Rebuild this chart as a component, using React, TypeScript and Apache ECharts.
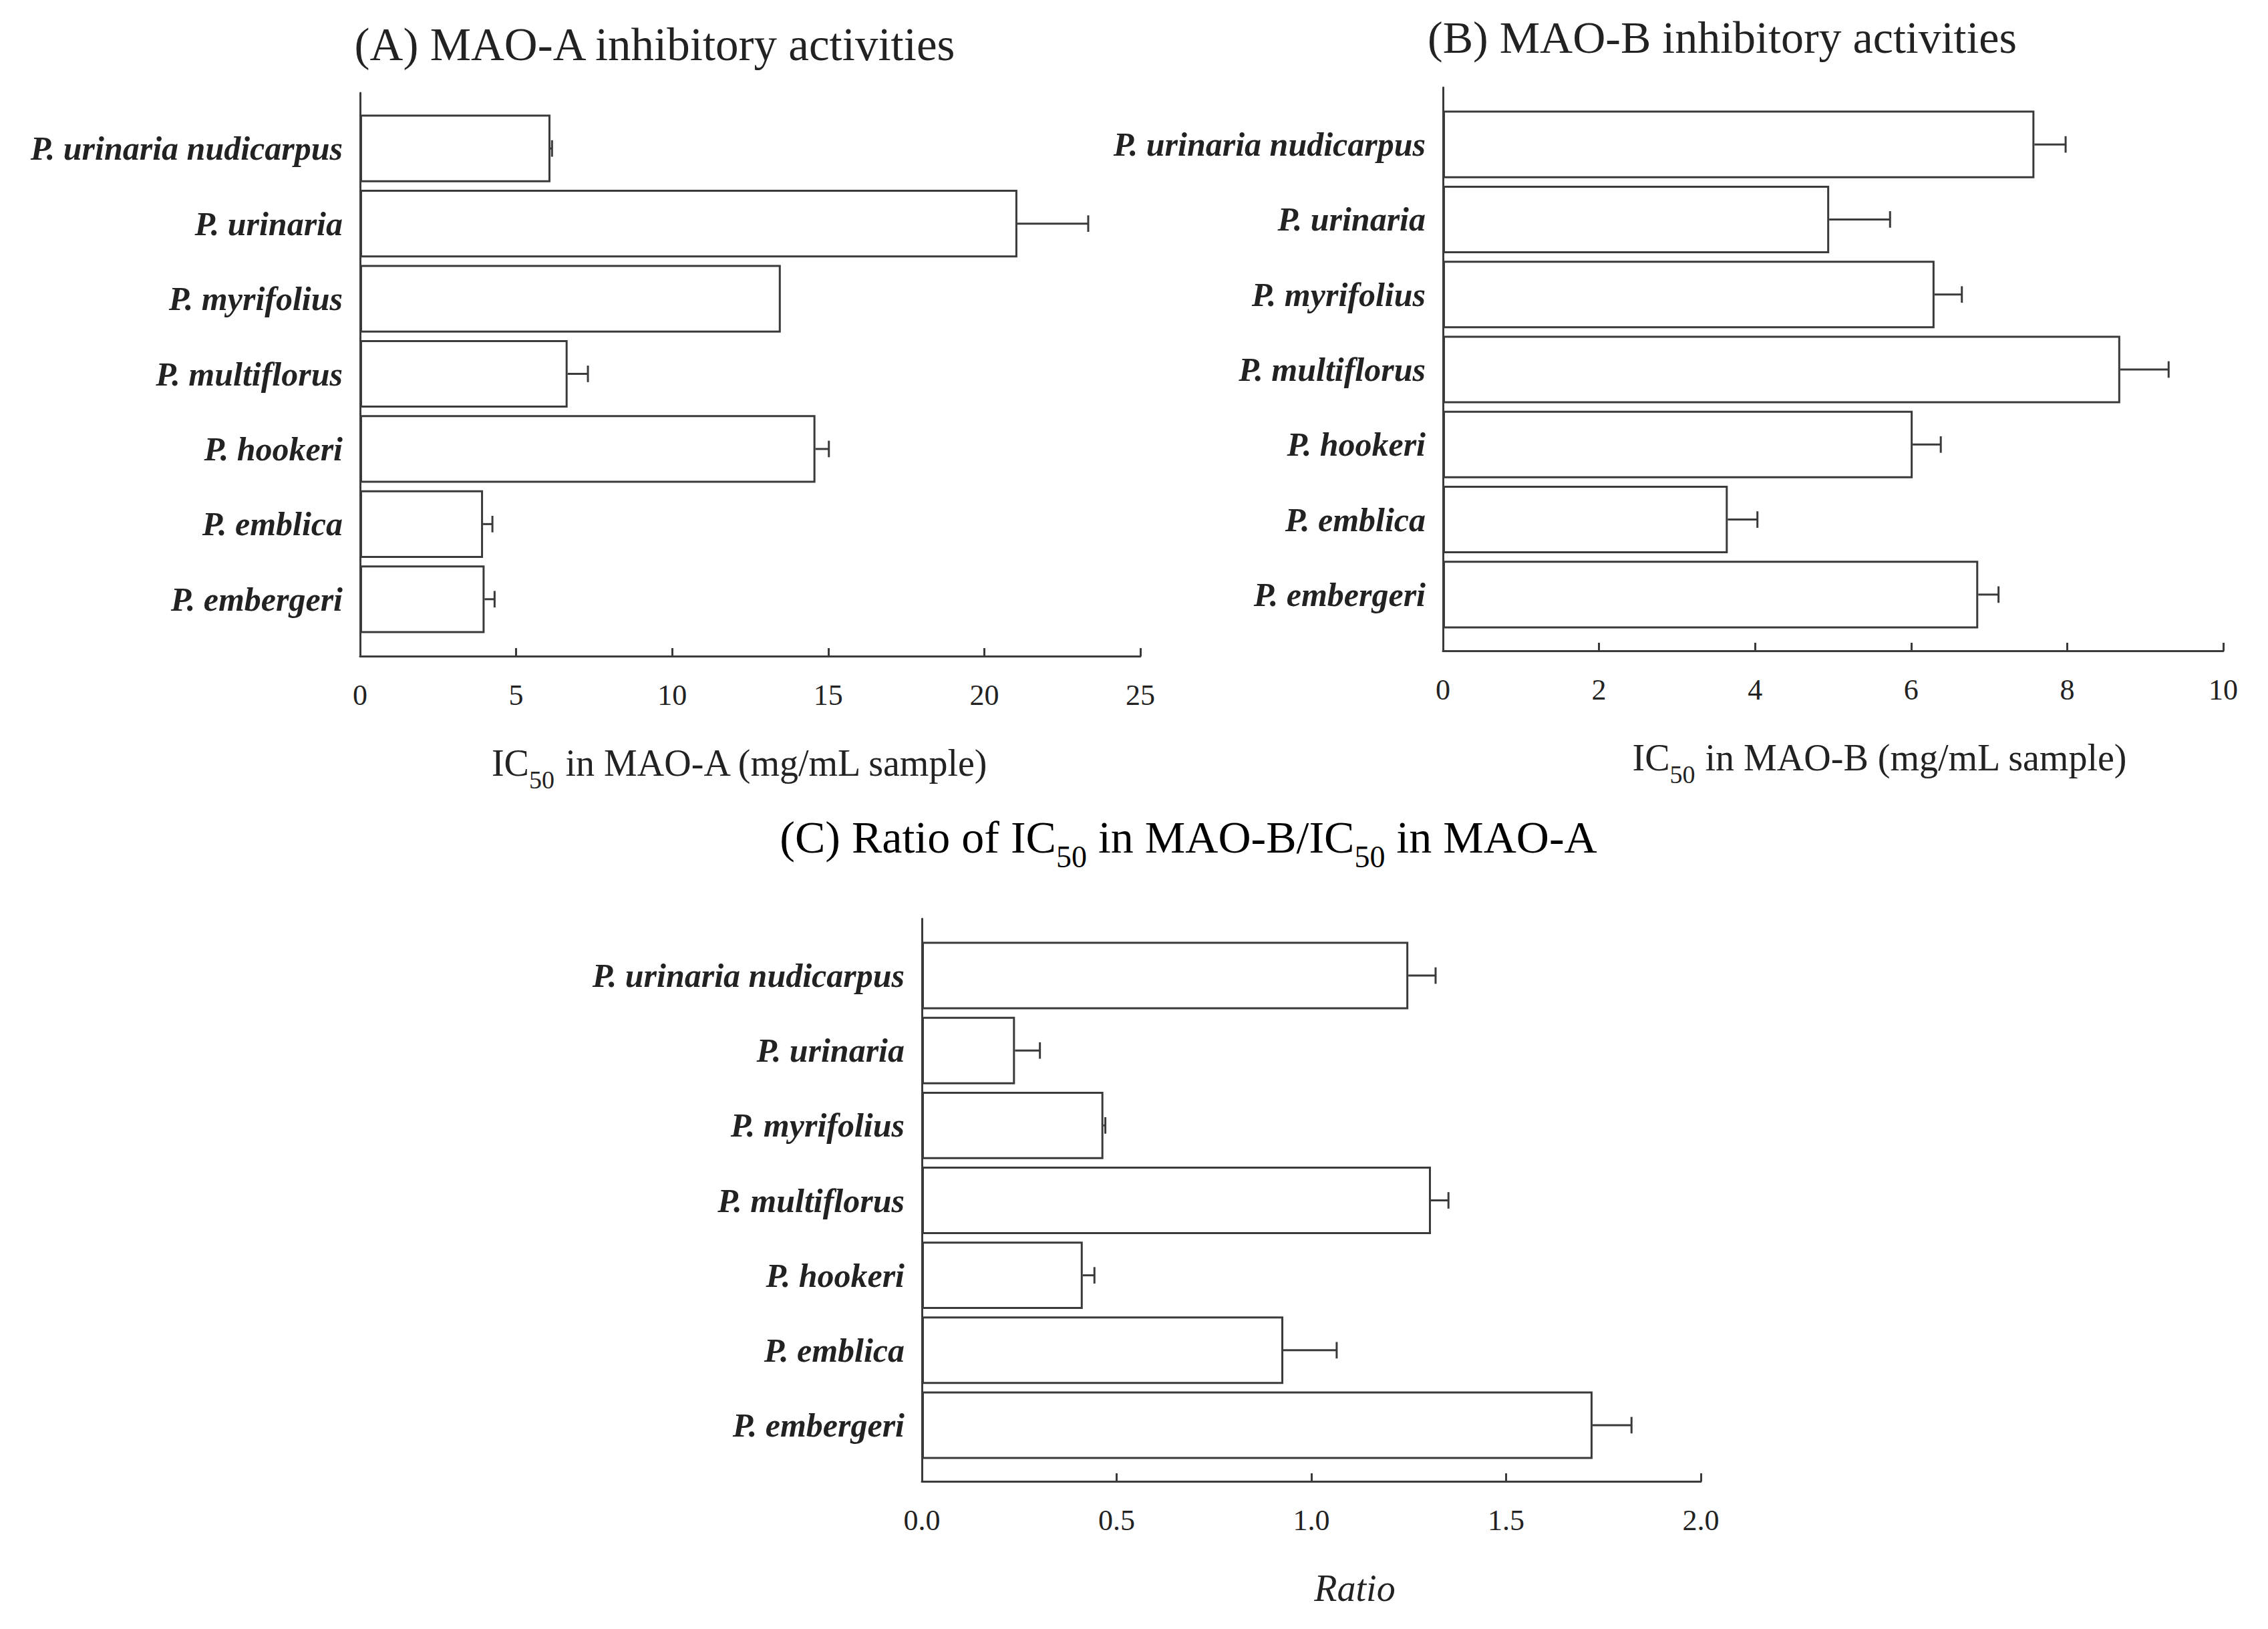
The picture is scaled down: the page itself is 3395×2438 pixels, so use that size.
import React, { useEffect, useRef } from "react";
import * as echarts from "echarts";

const categories = [
  "P. urinaria nudicarpus",
  "P. urinaria",
  "P. myrifolius",
  "P. multiflorus",
  "P. hookeri",
  "P. emblica",
  "P. embergeri",
];

const maoA = [6.1, 21.06, 13.48, 6.65, 14.59, 3.94, 3.99];
const maoAErr = [0.05, 2.27, 0, 0.65, 0.43, 0.3, 0.32];

const maoB = [7.58, 4.95, 6.3, 8.68, 6.02, 3.65, 6.86];
const maoBErr = [0.4, 0.78, 0.35, 0.62, 0.36, 0.38, 0.26];

const ratio = [1.249, 0.239, 0.466, 1.307, 0.413, 0.928, 1.722];
const ratioErr = [0.07, 0.064, 0.005, 0.045, 0.03, 0.137, 0.1];

const axisA = { min: 0, max: 25, interval: 5, digits: 0 };
const axisB = { min: 0, max: 10, interval: 2, digits: 0 };
const axisC = { min: 0, max: 2, interval: 0.5, digits: 1 };

const FONT = "'Liberation Serif', 'DejaVu Serif', serif";
const TXT = "#222";
const LINE = "#3a3a3a";

const subRich = {
  a: { fontSize: 56, fontFamily: FONT, color: TXT, padding: [0, 0, 16, 0], verticalAlign: "bottom" },
  s: { fontSize: 38, fontFamily: FONT, color: TXT, verticalAlign: "bottom" },
  r: { fontSize: 56, fontFamily: FONT, color: TXT, fontStyle: "italic" },
  t: { fontSize: 68, fontFamily: FONT, color: TXT, padding: [0, 0, 18, 0], verticalAlign: "bottom" },
  ts: { fontSize: 46, fontFamily: FONT, color: TXT, verticalAlign: "bottom" },
};

export default function App() {
  const ref = useRef<HTMLDivElement>(null);
  useEffect(() => {
    document.body.style.margin = "0";
    const chart = echarts.init(ref.current!, null, { renderer: "svg" });

    const grids = [
      { left: 539, top: 139, width: 1168, height: 843 },
      { left: 539, top: 166, width: 1168, height: 787 },
      { left: 2160, top: 131, width: 1168, height: 843 },
      { left: 2160, top: 160, width: 1168, height: 786 },
      { left: 1380, top: 1375, width: 1166, height: 842 },
      { left: 1380, top: 1404, width: 1166, height: 785 },
    ];

    const axisXs = (ax: any, gi: number, name: string, padL: number) => ({
      type: "value",
      gridIndex: gi,
      min: ax.min,
      max: ax.max,
      interval: ax.interval,
      axisLine: { show: true, lineStyle: { color: LINE, width: 3 } },
      axisTick: { show: true, inside: true, length: 12, lineStyle: { color: LINE, width: 3 } },
      axisLabel: {
        margin: 36,
        fontSize: 44,
        fontFamily: FONT,
        color: TXT,
        formatter: (v: number) => v.toFixed(ax.digits),
      },
      splitLine: { show: false },
      name,
      nameLocation: "middle",
      nameGap: 132,
      nameTextStyle: {
        fontSize: 56,
        fontFamily: FONT,
        color: TXT,
        padding: padL >= 0 ? [0, 0, 0, padL] : [0, -padL, 0, 0],
        rich: subRich,
      },
    });
    const hiddenX = (ax: any, gi: number) => ({
      type: "value",
      gridIndex: gi,
      min: ax.min,
      max: ax.max,
      interval: ax.interval,
      show: false,
    });
    const axisY = (gi: number) => ({
      type: "value",
      gridIndex: gi,
      min: 0,
      max: 1,
      axisLine: { show: true, lineStyle: { color: LINE, width: 3 } },
      axisTick: { show: false },
      axisLabel: { show: false },
      splitLine: { show: false },
    });
    const catY = (gi: number) => ({
      type: "category",
      gridIndex: gi,
      inverse: true,
      data: categories,
      axisLine: { show: false },
      axisTick: { show: false },
      axisLabel: {
        margin: 26,
        fontSize: 50,
        fontFamily: FONT,
        fontStyle: "italic",
        fontWeight: "bold",
        color: TXT,
      },
    });

    const barSeries = (vals: number[], idx: number) => ({
      type: "bar",
      xAxisIndex: idx,
      yAxisIndex: idx,
      data: vals,
      barCategoryGap: "10%",
      itemStyle: { color: "#fff", borderColor: LINE, borderWidth: 3 },
      silent: true,
    });

    const errSeries = (vals: number[], errs: number[], idx: number) => ({
      type: "custom",
      xAxisIndex: idx,
      yAxisIndex: idx,
      encode: { x: 0, y: 2 },
      data: vals.map((v, i) => [v, errs[i], i]),
      silent: true,
      renderItem: (params: any, api: any) => {
        const v = api.value(0);
        const e = api.value(1);
        const i = api.value(2);
        if (!e) return { type: "group", children: [] };
        const p0 = api.coord([v, i]);
        const p1 = api.coord([v + e, i]);
        const h = api.size([0, 1])[1] * 0.11;
        const style = { stroke: LINE, lineWidth: 3 };
        return {
          type: "group",
          children: [
            { type: "line", shape: { x1: p0[0], y1: p0[1], x2: p1[0], y2: p1[1] }, style },
            { type: "line", shape: { x1: p1[0], y1: p1[1] - h, x2: p1[0], y2: p1[1] + h }, style },
          ],
        };
      },
    });

    const option: any = {
      animation: false,
      backgroundColor: "#fff",
      grid: grids,
      xAxis: [
        axisXs(axisA, 0, "{a|IC}{s|50}{a| in MAO-A (mg/mL sample)}", -30),
        hiddenX(axisA, 1),
        axisXs(axisB, 2, "{a|IC}{s|50}{a| in MAO-B (mg/mL sample)}", 140),
        hiddenX(axisB, 3),
        axisXs(axisC, 4, "{r|Ratio}", 130),
        hiddenX(axisC, 5),
      ],
      yAxis: [axisY(0), catY(1), axisY(2), catY(3), axisY(4), catY(5)],
      series: [
        barSeries(maoA, 1),
        errSeries(maoA, maoAErr, 1),
        barSeries(maoB, 3),
        errSeries(maoB, maoBErr, 3),
        barSeries(ratio, 5),
        errSeries(ratio, ratioErr, 5),
      ],
      graphic: [
        {
          type: "text",
          x: 980,
          y: 67,
          style: {
            text: "(A) MAO-A inhibitory activities",
            fontSize: 69,
            fontFamily: FONT,
            fill: TXT,
            align: "center",
            verticalAlign: "middle",
          },
        },
        {
          type: "text",
          x: 2578,
          y: 56,
          style: {
            text: "(B) MAO-B inhibitory activities",
            fontSize: 68,
            fontFamily: FONT,
            fill: TXT,
            align: "center",
            verticalAlign: "middle",
          },
        },
        {
          type: "text",
          x: 1779,
          y: 1262,
          style: {
            text: "{t|(C) Ratio of IC}{ts|50}{t| in MAO-B/IC}{ts|50}{t| in MAO-A}",
            rich: subRich,
            align: "center",
            verticalAlign: "middle",
          },
        },
      ],
    };
    chart.setOption(option);
    return () => chart.dispose();
  }, []);
  return (
    <div
      ref={ref}
      style={{ position: "absolute", left: 0, top: 0, width: 3395, height: 2438, background: "#fff" }}
    />
  );
}
